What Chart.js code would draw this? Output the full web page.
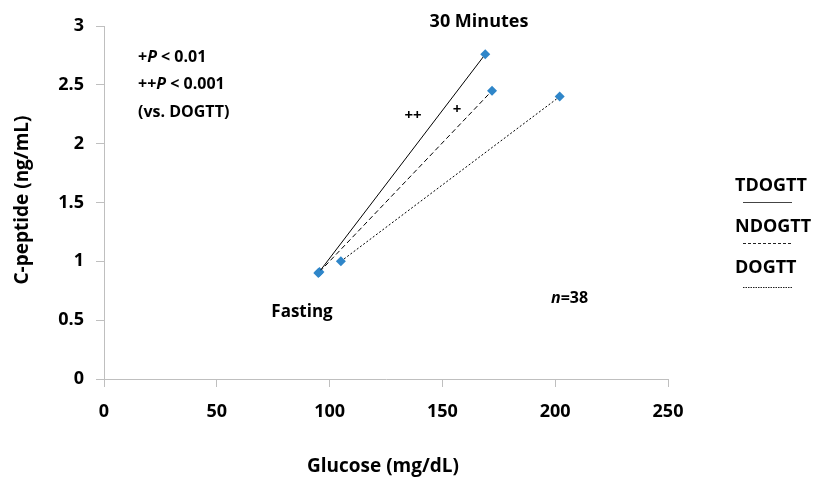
<!DOCTYPE html>
<html>
<head>
<meta charset="utf-8">
<script src="https://cdn.jsdelivr.net/npm/chart.js@4"></script>
<style>
  html, body { margin: 0; padding: 0; background: #fff; }
  #wrap { width: 814px; height: 483px; }
</style>
</head>
<body>
<div id="wrap"><canvas id="chart" width="814" height="483"></canvas></div>
<script>
/* glucose vs C-peptide, fasting -> 30 min, three test types */

const seriesNames = ["TDOGTT", "NDOGTT", "DOGTT"];
const timeLabels = ["Fasting", "30 Minutes"];

// glucose (mg/dL) at fasting and 30 min
const tdGlucose = [95, 169];
const ndGlucose = [95.5, 172];
const dGlucose = [105, 202];

// C-peptide (ng/mL) at fasting and 30 min
const tdCpep = [0.9, 2.76];
const ndCpep = [0.91, 2.45];
const dCpep = [1.0, 2.4];

const xTicks = [0, 50, 100, 150, 200, 250];
const yTicks = [0, 0.5, 1, 1.5, 2, 2.5, 3];

const FONT = "'Open Sans', sans-serif";
const AXIS_GREY = "#bfbfbf";
const POINT_BLUE = "#2f86c9";

const toPoints = (xs, ys) => xs.map((x, i) => ({ x, y: ys[i] }));

const dashes = [[], [5, 3], [2, 2]];

const datasets = [
  toPoints(tdGlucose, tdCpep),
  toPoints(ndGlucose, ndCpep),
  toPoints(dGlucose, dCpep),
].map((data, i) => ({
  label: seriesNames[i],
  data,
  showLine: true,
  borderColor: "#000",
  borderWidth: 1,
  borderDash: dashes[i],
  pointStyle: "rectRot",
  pointRadius: 5,
  pointBackgroundColor: POINT_BLUE,
  pointBorderColor: POINT_BLUE,
  pointBorderWidth: 0,
}));

// text annotations + custom legend + axis titles
const annotations = {
  id: "annotations",
  afterDraw(chart) {
    const { ctx } = chart;
    ctx.save();
    ctx.fillStyle = "#000";
    ctx.textBaseline = "middle";

    const bold = (size) => `bold ${size}px ${FONT}`;
    const boldItalic = (size) => `italic bold ${size}px ${FONT}`;

    // runs of text with mixed italic, drawn left to right
    const runs = (x, y, parts, size) => {
      ctx.textAlign = "left";
      parts.forEach(([t, it]) => {
        ctx.font = it ? boldItalic(size) : bold(size);
        ctx.fillText(t, x, y);
        x += ctx.measureText(t).width;
      });
    };

    runs(138, 57, [["+", false], ["P", true], [" < 0.01", false]], 16);
    runs(138, 84, [["++", false], ["P", true], [" < 0.001", false]], 16);
    runs(138, 112, [["(vs. DOGTT)", false]], 16);

    ctx.textAlign = "center";
    ctx.font = bold(18);
    ctx.fillText(timeLabels[1], 479, 22);
    ctx.font = bold(17);
    ctx.fillText(timeLabels[0], 302, 312);
    ctx.font = bold(15);
    ctx.fillText("++", 413, 116);
    ctx.fillText("+", 457, 110);

    runs(551, 298, [["n", true], ["=38", false]], 16);

    // legend block on the right
    const legendY = [186, 227, 268];
    const lineY = [202, 243, 287];
    legendY.forEach((y, i) => {
      ctx.textAlign = "left";
      ctx.font = bold(18);
      ctx.fillText(seriesNames[i], 735, y);
      ctx.beginPath();
      ctx.setLineDash(i === 0 ? [] : i === 1 ? [3, 2] : [1.5, 1]);
      ctx.strokeStyle = i === 0 ? "#444" : "#222";
      ctx.lineWidth = 1;
      ctx.moveTo(743, lineY[i] + 0.5);
      ctx.lineTo(792, lineY[i] + 0.5);
      ctx.stroke();
    });
    ctx.setLineDash([]);

    // axis titles
    ctx.font = bold(19);
    ctx.textAlign = "center";
    ctx.fillText("Glucose (mg/dL)", 383, 467);
    ctx.translate(23, 200);
    ctx.rotate(-Math.PI / 2);
    ctx.fillText("C-peptide (ng/mL)", 0, 0);
    ctx.restore();
  },
};

new Chart(document.getElementById("chart"), {
  type: "scatter",
  data: { datasets },
  options: {
    responsive: false,
    animation: false,
    layout: { padding: { left: 0, right: 146, top: 26, bottom: 0 } },
    plugins: { legend: { display: false }, tooltip: { enabled: false } },
    elements: { line: { tension: 0 } },
    scales: {
      x: {
        type: "linear",
        min: 0,
        max: 250,
        afterBuildTicks: (s) => { s.ticks = xTicks.map((v) => ({ value: v })); },
        afterFit: (s) => { s.height = 104; },
        border: { display: true, color: AXIS_GREY, width: 1 },
        grid: { drawOnChartArea: false, drawTicks: true, tickLength: 8, color: AXIS_GREY },
        ticks: { color: "#000", font: { family: FONT, size: 18, weight: "bold" }, padding: 14, maxRotation: 0, callback: (v) => String(v) },
      },
      y: {
        type: "linear",
        min: 0,
        max: 3,
        afterBuildTicks: (s) => { s.ticks = yTicks.map((v) => ({ value: v })); },
        afterFit: (s) => { s.width = 104; },
        border: { display: true, color: AXIS_GREY, width: 1 },
        grid: { drawOnChartArea: false, drawTicks: true, tickLength: 8, color: AXIS_GREY },
        ticks: { color: "#000", font: { family: FONT, size: 18, weight: "bold" }, padding: 12, callback: (v) => String(v) },
      },
    },
  },
  plugins: [annotations],
});
</script>
</body>
</html>
